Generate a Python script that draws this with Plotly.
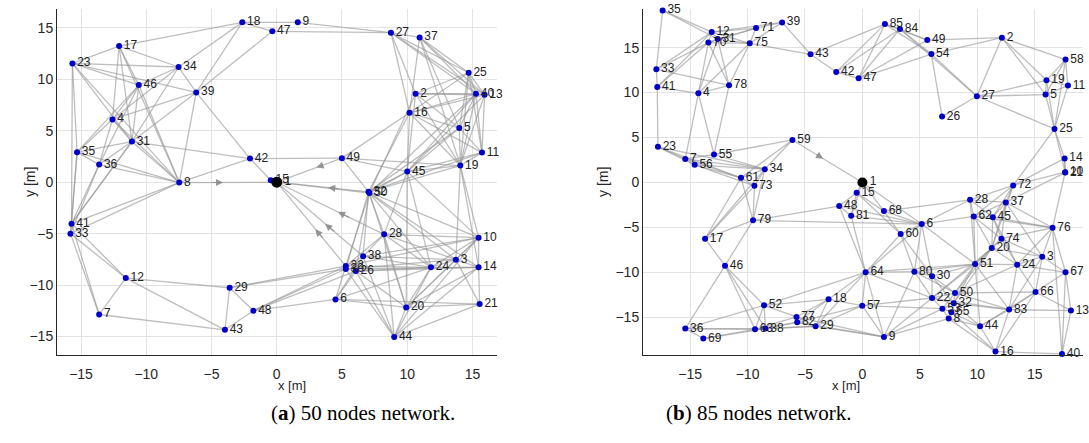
import plotly.graph_objects as go

# ---------------- (a) 50 nodes network ----------------
a_ids = list(range(1, 51))
a_x = [0, 10.64, 13.73, -12.59, 13.99, 4.5, -13.61, -7.47, 1.61, 15.47,
       15.73, -11.57, 15.93, 15.47, -0.46, 10.18, -12.08, -2.64, 14.07, 9.92,
       15.55, 5.29, -15.66, 11.82, 14.71, 6.06, 8.75, 8.23, -3.61, 5.29,
       -11.1, 7.03, -15.81, -7.52, -15.3, -13.61, 10.95, 6.62, -6.17, 15.27,
       -15.73, -2.05, -3.97, 9.0, 10.0, -10.57, -0.34, -1.79, 4.99, 7.1]
a_y = [0, 8.6, -7.53, 6.1, 5.26, -11.4, -12.86, -0.04, 15.54, -5.39,
       2.88, -9.32, 8.5, -8.28, 0.19, 6.75, 13.24, 15.54, 1.62, -12.17,
       -11.85, -8.15, 11.55, -8.28, 10.64, -8.64, 14.54, -5.07, -10.26, -8.44,
       3.95, -0.94, -5.0, 11.2, 2.92, 1.71, 14.08, -7.21, 8.73, 8.6,
       -4.03, 2.3, -14.35, -15.06, 1.03, 9.44, 14.67, -12.5, 2.34, -1.05]
a_edges = [
    (18, 17), (18, 9), (18, 47), (18, 34), (18, 39), (9, 27), (47, 27), (47, 39),
    (17, 23), (17, 34), (17, 4), (17, 31), (17, 8), (17, 46),
    (23, 34), (23, 39), (23, 46), (23, 31), (23, 35), (23, 8),
    (34, 46), (34, 4), (34, 31), (34, 39), (46, 4), (46, 35), (46, 36), (46, 31), (46, 8),
    (39, 4), (39, 8), (39, 42), (39, 31), (4, 31), (4, 36), (4, 35), (4, 8),
    (31, 35), (31, 36), (31, 8), (31, 42), (31, 41), (35, 36), (35, 8), (35, 41),
    (36, 8), (36, 41), (36, 33), (8, 1), (8, 42), (8, 41), (8, 33),
    (42, 15), (42, 49), (15, 1), (49, 1), (49, 45), (49, 32), (49, 16), (49, 19),
    (32, 1), (50, 1), (32, 45), (32, 16), (32, 5), (32, 11), (32, 19), (50, 40), (50, 2),
    (27, 37), (27, 25), (27, 40), (27, 2), (27, 13), (27, 16),
    (37, 25), (37, 40), (37, 13), (37, 5), (37, 19), (37, 16),
    (25, 2), (25, 16), (25, 5), (25, 19), (25, 40), (25, 13), (25, 11),
    (2, 40), (2, 13), (2, 5), (2, 19), (2, 45), (16, 40), (16, 13), (16, 5),
    (16, 45), (16, 19), (16, 11), (40, 13), (40, 5), (40, 11), (40, 19), (40, 45),
    (13, 11), (13, 45), (13, 19), (5, 45), (5, 19), (5, 11), (11, 19), (11, 45),
    (19, 45), (19, 10), (19, 14), (19, 3), (45, 50), (45, 28), (45, 24), (45, 10), (45, 20),
    (32, 28), (32, 38), (50, 22), (32, 30), (50, 26), (32, 10), (50, 3), (32, 24),
    (50, 20), (32, 14), (1, 22), (1, 38), (1, 28),
    (28, 10), (28, 3), (28, 24), (28, 38), (28, 22), (28, 20), (28, 44),
    (38, 22), (38, 3), (38, 10), (38, 24), (38, 6), (38, 44),
    (22, 24), (30, 3), (26, 14), (22, 10), (26, 20), (30, 44), (22, 6), (30, 48),
    (22, 29), (26, 24), (30, 14), (26, 44),
    (6, 48), (6, 21), (6, 20), (6, 24), (6, 26), (24, 3), (24, 14), (24, 20),
    (24, 44), (24, 10), (3, 10), (3, 14), (3, 21), (3, 20), (10, 14), (10, 20),
    (10, 44), (14, 21), (14, 20), (14, 44), (20, 44), (20, 21), (44, 21),
    (48, 29), (48, 43), (48, 22), (48, 26), (29, 12), (29, 43), (29, 30),
    (43, 12), (43, 7), (12, 33), (12, 7), (12, 41), (7, 33), (7, 41),
    (41, 33), (41, 31), (23, 41), (35, 33),
]
a_arrows = [(8, 1, 0.45), (49, 1, 0.39), (32, 1, 0.44), (22, 1, 0.44),
            (38, 1, 0.44), (28, 1, 0.43), (42, 15, 0.39)]

# ---------------- (b) 85 nodes network ----------------
b_ids = list(range(1, 86))
b_x = [0, 12.14, 15.65, -14.28, 15.94, 5.16, -15.42, 7.51, 1.87, 17.65,
       17.89, -13.12, 18.15, 17.6, -0.5, 11.58, -13.7, -2.95, 16.02, 11.26,
       17.65, 6.06, -17.8, 13.47, 16.72, 6.93, 9.96, 9.37, -4.08, 6.06,
       -12.6, 7.95, -17.94, -8.5, -17.39, -15.42, 12.48, -8.44, -6.99, 17.37,
       -17.86, -2.28, -4.52, 10.24, 11.35, -11.96, -0.33, -2.02, 5.65, 8.06,
       9.81, -8.56, 6.96, 6.0, -12.92, -14.6, -0.02, 17.68, -6.09, 3.33,
       -10.57, 9.69, -9.35, 0.28, 7.74, 15.07, 17.68, 1.87, -13.85, -13.41,
       -9.26, 13.12, -9.4, 12.1, -9.81, 16.55, -5.74, -11.61, -9.52, 4.52,
       -0.98, -5.68, 12.77, 3.27, 1.96]
b_y = [0, 16.11, -8.26, 9.92, 9.78, -4.63, 2.62, -15.15, -17.19, 1.14,
       10.78, 16.73, -14.26, 2.67, -1.15, -18.82, -6.26, -13.0, 11.37, -7.3,
       1.1, -12.86, 3.96, -9.15, 5.96, 7.33, 9.59, -1.93, -16.0, -10.44,
       15.96, -13.44, 12.59, 1.48, 19.14, -16.26, -2.22, -16.26, 17.81, -19.08,
       10.62, 12.29, 14.26, -16.0, -3.86, -9.26, 11.59, -2.63, 15.84, -12.3,
       -9.08, -13.67, -14.04, 14.29, 3.11, 1.96, -13.71, 13.67, 4.73, -5.74,
       0.51, -3.78, -16.34, -10.0, -14.45, -12.19, -10.0, -3.19, -17.37, 15.56,
       17.18, -0.33, -0.38, -6.26, 15.48, -5.04, -14.97, 10.81, -4.22, -9.93,
       -3.71, -15.56, -14.15, 17.07, 17.62]
b_edges = [
    (35, 12), (35, 33), (35, 31), (12, 31), (12, 70), (12, 71), (12, 75), (12, 33),
    (12, 41), (12, 39), (31, 70), (31, 75), (31, 71), (31, 78), (31, 4),
    (70, 33), (70, 41), (70, 4), (70, 78), (70, 71), (70, 75),
    (71, 39), (71, 75), (39, 43), (39, 75), (75, 43), (75, 4), (75, 78),
    (43, 42), (43, 85), (33, 78), (33, 41), (41, 4), (41, 23),
    (4, 78), (4, 7), (4, 55), (78, 55), (23, 7), (23, 56), (23, 61), (23, 34),
    (7, 55), (7, 56), (7, 34), (7, 61), (56, 61), (56, 34), (56, 73),
    (55, 59), (55, 34), (34, 59), (34, 61), (34, 73), (61, 59), (61, 73),
    (61, 17), (61, 79), (73, 79), (73, 17), (59, 1),
    (42, 85), (42, 84), (47, 85), (47, 84), (47, 49), (47, 54),
    (85, 84), (85, 54), (85, 49), (84, 54), (84, 49), (84, 27),
    (49, 2), (54, 2), (54, 26), (54, 27), (27, 26), (27, 2), (27, 5), (27, 25), (27, 19),
    (2, 19), (2, 5), (2, 58), (58, 19), (58, 5), (58, 11), (58, 25),
    (19, 5), (19, 11), (19, 25), (5, 11), (5, 25), (11, 25),
    (25, 14), (25, 10), (25, 72), (14, 10), (14, 72), (14, 21), (10, 72), (21, 37),
    (10, 76), (72, 28), (72, 37), (72, 62), (72, 45), (72, 20),
    (1, 15), (1, 81), (1, 68), (1, 6), (15, 48), (15, 81), (15, 68), (15, 60),
    (48, 81), (48, 79), (48, 64), (48, 6), (81, 64), (81, 6),
    (68, 6), (68, 60), (68, 28), (6, 60), (6, 28), (6, 62), (6, 80), (6, 30),
    (6, 51), (6, 64), (28, 37), (28, 62), (28, 45), (28, 51),
    (37, 45), (37, 62), (37, 76), (37, 74), (37, 20), (37, 3),
    (62, 45), (62, 74), (62, 20), (62, 51), (62, 76), (45, 74), (45, 20), (45, 76),
    (45, 24), (76, 74), (76, 3), (76, 24), (76, 67), (76, 40),
    (74, 20), (74, 3), (74, 24), (74, 51), (20, 51), (20, 24), (20, 3), (20, 50),
    (20, 32), (20, 22), (3, 24), (3, 67), (3, 66), (3, 83),
    (24, 51), (24, 67), (24, 66), (24, 83), (24, 50),
    (51, 80), (51, 30), (51, 50), (51, 32), (51, 83), (51, 22), (51, 44), (51, 64),
    (67, 66), (67, 13), (67, 40), (66, 83), (66, 13), (66, 16), (66, 50), (66, 44),
    (13, 83), (13, 40), (83, 50), (83, 32), (83, 44), (83, 16), (83, 22),
    (64, 80), (64, 57), (64, 9), (64, 18), (64, 60), (64, 22), (64, 29),
    (80, 30), (80, 22), (80, 50), (80, 9), (30, 22), (30, 50), (30, 32),
    (60, 80), (60, 30), (50, 32), (50, 22), (50, 53), (22, 32), (22, 53),
    (22, 57), (22, 9), (32, 53), (32, 65), (32, 44), (53, 65), (53, 8), (53, 9),
    (65, 8), (65, 44), (65, 16), (8, 16), (8, 9), (8, 44), (44, 16), (16, 40),
    (57, 18), (57, 9), (57, 29), (57, 82), (57, 53), (18, 29), (18, 77), (18, 82),
    (18, 52), (9, 29), (9, 82), (9, 77), (29, 82), (29, 77), (29, 63), (29, 38),
    (77, 52), (77, 82), (77, 63), (82, 38), (82, 63), (52, 63), (52, 38), (52, 36),
    (52, 46), (52, 64), (63, 38), (63, 36), (63, 46), (38, 36), (38, 69), (38, 46),
    (36, 69), (36, 46), (69, 63), (46, 17), (46, 79), (17, 79), (17, 34),
    (79, 34), (79, 6), (42, 47),
]
b_arrows = [(59, 1, 0.44)]

EDGE_COLOR = "rgba(150,150,150,0.62)"
NODE_COLOR = "#0000c8"
TICK_FONT = dict(family="Liberation Sans, Arial, sans-serif", size=14, color="#262626")
LABEL_FONT = dict(family="Liberation Sans, Arial, sans-serif", size=12, color="#222222")

fig = go.Figure()


def add_network(ids, xs, ys, edges, arrows, xa, ya, hub_size):
    pos = {i: (x, y) for i, x, y in zip(ids, xs, ys)}
    ex, ey = [], []
    for s, t in edges:
        ex += [pos[s][0], pos[t][0], None]
        ey += [pos[s][1], pos[t][1], None]
    fig.add_trace(go.Scatter(x=ex, y=ey, mode="lines", xaxis=xa, yaxis=ya,
                             line=dict(color=EDGE_COLOR, width=1.3),
                             hoverinfo="skip", showlegend=False))
    others = [i for i in ids if i != 1]
    fig.add_trace(go.Scatter(
        x=[pos[i][0] for i in others], y=[pos[i][1] for i in others],
        mode="markers+text", text=[str(i) for i in others],
        textposition="middle right", textfont=LABEL_FONT, cliponaxis=False,
        marker=dict(color=NODE_COLOR, size=6), xaxis=xa, yaxis=ya, showlegend=False))
    fig.add_trace(go.Scatter(
        x=[pos[1][0]], y=[pos[1][1]], mode="markers+text", text=["1"],
        textposition="middle right", textfont=LABEL_FONT, cliponaxis=False,
        marker=dict(color="black", size=hub_size), xaxis=xa, yaxis=ya, showlegend=False))
    for s, t, f in arrows:
        (x0, y0), (x1, y1) = pos[s], pos[t]
        hx, hy = x0 + f * (x1 - x0), y0 + f * (y1 - y0)
        tx, ty = x0 + (f - 0.12) * (x1 - x0), y0 + (f - 0.12) * (y1 - y0)
        fig.add_annotation(x=hx, y=hy, ax=tx, ay=ty, xref=xa, yref=ya,
                           axref=xa, ayref=ya, showarrow=True, text="",
                           arrowhead=2, arrowsize=1.3, arrowwidth=1.1,
                           arrowcolor="rgba(140,140,140,0.9)")


add_network(a_ids, a_x, a_y, a_edges, a_arrows, "x", "y", 11)
add_network(b_ids, b_x, b_y, b_edges, b_arrows, "x2", "y2", 10)

W, H = 1089, 443
ydom = [(H - 355) / H, (H - 9) / H]
ticks = [-15, -10, -5, 0, 5, 10, 15]
axis_common = dict(showgrid=True, gridcolor="#e3e3e3", gridwidth=1, zeroline=False,
                   showline=True, linecolor="#262626", linewidth=1, tickfont=TICK_FONT,
                   tickvals=ticks, ticks="", mirror=False)

fig.update_layout(
    width=W, height=H, margin=dict(l=0, r=0, t=0, b=0),
    paper_bgcolor="white", plot_bgcolor="white", showlegend=False,
    xaxis=dict(domain=[57 / W, 497 / W], range=[-16.84, 16.88], anchor="y",
               ticklabelstandoff=6, **axis_common),
    yaxis=dict(domain=ydom, range=[-16.8, 16.84], anchor="x", **axis_common),
    xaxis2=dict(domain=[643 / W, 1083 / W], range=[-19.1, 19.2], anchor="y2",
                ticklabelstandoff=6, **axis_common),
    yaxis2=dict(domain=ydom, range=[-19.2, 19.3], anchor="x2", **axis_common),
)

lab_font = dict(family="Liberation Sans, Arial, sans-serif", size=13, color="#262626")
for xc, txt in [(276 / W, "x [m]"), (862 / W, "x [m]")]:
    fig.add_annotation(x=xc, y=(H - 395) / H, xref="paper", yref="paper", text=txt,
                       showarrow=False, font=lab_font)
for xc in [20 / W, 603 / W]:
    fig.add_annotation(x=xc, y=(H - 182) / H, xref="paper", yref="paper", text="y [m]",
                       showarrow=False, textangle=-90, font=dict(lab_font, size=14))

cap_font = dict(family="Liberation Serif, DejaVu Serif, serif", size=21, color="black")
fig.add_annotation(x=269 / W, y=(H - 427) / H, xref="paper", yref="paper",
                   text="(<b>a</b>) 50 nodes network.", showarrow=False, font=cap_font)
fig.add_annotation(x=854 / W, y=(H - 427) / H, xref="paper", yref="paper",
                   text="(<b>b</b>) 85 nodes network.", showarrow=False, font=cap_font)

fig.write_html("out.html", config={"displayModeBar": False},
               post_script="document.body.style.margin='0px';document.body.style.overflow='hidden';")
